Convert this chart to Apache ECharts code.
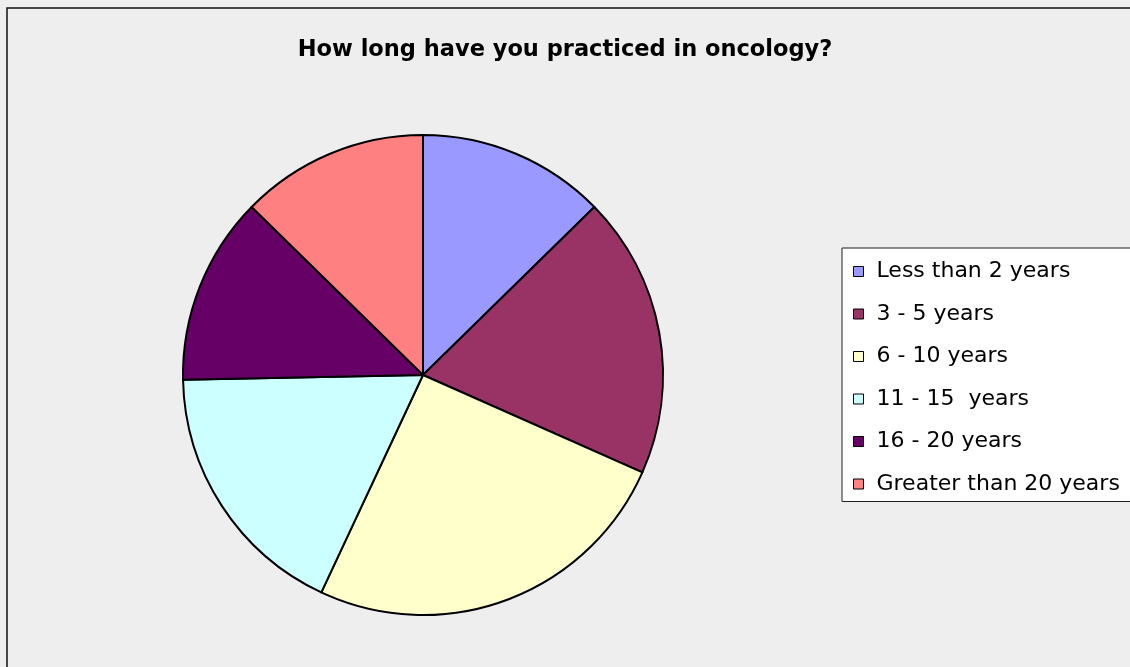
<!DOCTYPE html>
<html>
<head>
<meta charset="utf-8">
<script src="https://cdn.jsdelivr.net/npm/echarts@6/dist/echarts.min.js"></script>
<style>
  html, body { margin: 0; padding: 0; background: #eeeeee; }
  #main { width: 1130px; height: 667px; }
</style>
</head>
<body>
<div id="main"></div>
<script>
// survey answers
var categories = ['Less than 2 years', '3 - 5 years', '6 - 10 years', '11 - 15  years', '16 - 20 years', 'Greater than 20 years'];
var counts = [10, 15, 20, 14, 10, 10];
var colors = ['#9999ff', '#993366', '#ffffcc', '#ccffff', '#660066', '#ff8080'];

var chart = echarts.init(document.getElementById('main'));

var pieData = categories.map(function (name, i) {
    return { name: name, value: counts[i], itemStyle: { color: colors[i] } };
});

chart.setOption({
    backgroundColor: '#eeeeee',
    animation: false,
    title: {
        text: 'How long have you practiced in oncology?',
        left: 'center',
        top: 34,
        textStyle: {
            fontFamily: 'DejaVu Sans',
            fontWeight: 'bold',
            fontSize: 22.5,
            color: '#000'
        }
    },
    // outer chart-area frame
    graphic: [{
        type: 'rect',
        shape: { x: 7, y: 8, width: 1200, height: 800 },
        style: { fill: 'none', stroke: '#111', lineWidth: 1.5 },
        silent: true
    }],
    legend: {
        orient: 'vertical',
        left: 842,
        top: 248,
        icon: 'rect',
        itemWidth: 10,
        itemHeight: 10,
        itemGap: 17.5,
        backgroundColor: '#ffffff',
        borderColor: '#222',
        borderWidth: 1,
        padding: [11, 40, 5, 11],
        itemStyle: { borderColor: '#000', borderWidth: 1 },
        textStyle: {
            fontFamily: 'DejaVu Sans',
            fontSize: 22,
            lineHeight: 22,
            color: '#000',
            padding: [3, 0, 0, 8]
        },
        data: categories
    },
    series: [{
        type: 'pie',
        center: [423, 375],
        radius: 240,
        startAngle: 90,
        clockwise: true,
        label: { show: false },
        labelLine: { show: false },
        emphasis: { disabled: true },
        itemStyle: { borderColor: '#000', borderWidth: 2 },
        data: pieData
    }]
});
</script>
</body>
</html>
